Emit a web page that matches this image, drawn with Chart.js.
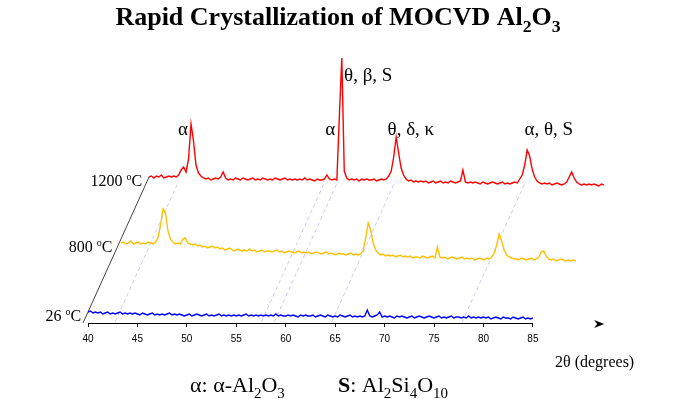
<!DOCTYPE html>
<html>
<head>
<meta charset="utf-8">
<script src="https://cdn.jsdelivr.net/npm/chart.js@4.4.1/dist/chart.umd.min.js"></script>
<style>
  html, body { margin: 0; padding: 0; background: #fff; }
  #xrd { display: block; }
</style>
</head>
<body>
<canvas id="xrd" width="675" height="399"></canvas>
<script>
// 2-theta sampling of the scans (degrees)
const ANGLE_START = 40;
const ANGLE_STEP = 0.25;
const tickValues = [40, 45, 50, 55, 60, 65, 70, 75, 80, 85];

// intensities, one row = 2.5 degrees
const counts1200 = [
  16,17,15,17,16,18,15,16,17,16,
  17,16,18,23,26,21,34,69,52,28,
  20,17,15,14,15,13,14,15,14,16,
  21,15,13,14,13,15,14,13,15,14,
  13,14,15,13,14,13,15,14,13,14,
  13,15,14,13,14,15,13,14,13,14,
  13,14,13,15,13,14,13,12,14,13,
  13,14,18,14,13,14,13,76,135,22,
  15,13,14,13,14,12,14,13,14,13,
  13,14,12,13,14,13,14,17,22,36,
  56,40,25,18,14,12,13,11,12,11,
  12,11,12,10,11,12,10,11,12,10,
  11,10,12,11,10,11,12,23,11,10,
  11,10,11,10,9,11,10,9,10,11,
  10,9,10,11,9,10,9,10,11,10,
  14,18,28,43,37,24,16,12,10,9,
  10,9,10,8,9,10,9,8,9,11,
  16,21,15,11,9,8,9,8,9,8,
  9,8,7,9,8
];
const counts800 = [
  20,21,19,20,22,19,20,21,19,20,
  19,21,20,19,21,26,38,54,50,32,
  24,21,19,20,19,24,25,20,19,18,
  19,17,18,16,17,15,16,17,15,16,
  14,15,13,14,15,13,12,14,13,12,
  13,12,14,12,13,11,12,13,11,12,
  12,11,12,13,11,12,10,11,12,11,
  10,11,12,10,11,10,11,9,10,11,
  10,9,10,11,9,10,9,8,10,9,
  9,8,9,10,8,9,8,9,13,25,
  40,33,20,13,10,8,9,7,8,7,
  8,6,7,8,6,7,6,7,5,6,
  6,5,7,6,5,6,7,5,16,6,
  5,6,4,5,6,5,4,5,6,4,
  5,4,5,3,4,5,4,3,5,4,
  6,10,18,29,22,13,8,6,5,4,
  4,3,5,4,3,4,5,3,4,6,
  11,12,7,4,3,4,2,3,4,3,
  2,3,2,3,2
];
const counts26 = [
  11,12,10,11,10,11,9,10,11,9,
  10,9,10,11,9,10,9,10,9,10,
  9,8,10,9,8,9,10,8,9,8,
  9,8,9,10,8,9,8,9,8,7,
  8,9,7,8,9,8,7,8,9,7,
  8,7,8,9,7,8,7,8,7,8,
  7,8,7,8,9,7,8,7,8,7,
  8,7,8,7,8,7,9,7,8,7,
  7,8,7,8,7,6,8,7,8,7,
  7,8,6,7,8,7,6,8,7,6,
  7,6,8,7,6,7,8,6,7,6,
  7,6,7,13,7,6,7,8,11,6,
  7,6,7,6,5,7,6,7,6,5,
  6,7,5,6,7,6,5,6,7,6,
  5,6,7,5,6,5,6,7,5,6,
  6,5,6,5,7,5,6,5,6,5,
  6,5,6,4,5,6,5,4,6,5,
  5,4,6,5,4,5,6,4,5,4,
  5,null,null,null,null
];

// peak guide positions (degrees, on the 1200 scan)
const guideAngles = [43.2, 58.0, 59.3, 65.1, 78.3];

const twoTheta = counts26.map((_, i) => ANGLE_START + i * ANGLE_STEP);

// waterfall: each scan shifted right (deg) and up
const traces = [
  { temp: '26',   counts: counts26,   color: '#0000ff', dx: 0,    dy: 0 },
  { temp: '800',  counts: counts800,  color: '#ffc000', dx: 3.34, dy: 60 },
  { temp: '1200', counts: counts1200, color: '#ff0000', dx: 6.17, dy: 130 }
];

const backTrace = traces[2], frontTrace = traces[0];
const baseLow = frontTrace.counts[0];
const baseHigh = backTrace.dy + backTrace.counts[0];
const slope = backTrace.dx / (baseHigh - baseLow);   // degrees per intensity unit

const peakLabels = [
  { text: 'α',       x: 49.6,  y: 193, align: 'center' },
  { text: 'α',       x: 64.5,  y: 193, align: 'center' },
  { text: 'θ, β, S', x: 65.9,  y: 247, align: 'left' },
  { text: 'θ, δ, κ', x: 70.3,  y: 193, align: 'left' },
  { text: 'α, θ, S', x: 84.15, y: 193, align: 'left' }
];

const SERIF = "'Liberation Serif', 'Times New Roman', serif";

function drawRich(ctx, parts, x, y, size, align) {
  const font = (p, s) => (p.bold ? 'bold ' : '') + s + 'px ' + SERIF;
  let total = 0;
  parts.forEach(p => {
    ctx.font = font(p, p.sub ? size * 0.68 : size);
    p.w = ctx.measureText(p.t).width;
    total += p.w;
  });
  let cx = align === 'center' ? x - total / 2 : (align === 'right' ? x - total : x);
  ctx.textAlign = 'left';
  ctx.textBaseline = 'alphabetic';
  parts.forEach(p => {
    ctx.font = font(p, p.sub ? size * 0.68 : size);
    ctx.fillText(p.t, cx, p.sub ? y + size * 0.25 : y);
    cx += p.w;
  });
}

const overlayPlugin = {
  id: 'waterfallOverlay',
  beforeDatasetsDraw(chart) {
    const { ctx, scales: { x, y } } = chart;
    ctx.save();
    // dashed peak guides
    ctx.strokeStyle = '#d2c6f6';
    ctx.lineWidth = 1;
    ctx.setLineDash([4, 3]);
    guideAngles.forEach(a => {
      ctx.beginPath();
      ctx.moveTo(x.getPixelForValue(a + (1 - baseLow) * slope), y.getPixelForValue(1));
      ctx.lineTo(x.getPixelForValue(a + (baseHigh - 4 - baseLow) * slope), y.getPixelForValue(baseHigh - 4));
      ctx.stroke();
    });
    ctx.setLineDash([]);
    // depth axis
    ctx.strokeStyle = '#444';
    ctx.beginPath();
    ctx.moveTo(x.getPixelForValue(ANGLE_START - baseLow * slope), y.getPixelForValue(0));
    ctx.lineTo(x.getPixelForValue(ANGLE_START + backTrace.dx), y.getPixelForValue(baseHigh));
    ctx.stroke();
    // 2-theta axis line
    ctx.strokeStyle = '#000';
    const ay = Math.round(y.getPixelForValue(0)) + 0.5;
    ctx.beginPath();
    ctx.moveTo(x.getPixelForValue(tickValues[0]), ay);
    ctx.lineTo(x.getPixelForValue(tickValues[tickValues.length - 1]), ay);
    ctx.stroke();
    ctx.restore();
  },
  afterDraw(chart) {
    const { ctx, scales: { x, y } } = chart;
    ctx.save();
    ctx.fillStyle = '#000';

    // temperature labels at the start of each scan
    const x0 = x.getPixelForValue(ANGLE_START - baseLow * slope), y0 = y.getPixelForValue(0);
    const x1 = x.getPixelForValue(ANGLE_START + backTrace.dx), y1 = y.getPixelForValue(baseHigh);
    traces.forEach(tr => {
      const py = y.getPixelForValue(tr.dy + tr.counts[0]) + 4;
      const lx = x0 + (x1 - x0) * (py - y0) / (y1 - y0) - 5;
      ctx.font = '16px ' + SERIF;
      const wN = ctx.measureText(tr.temp + ' ').width;
      const wC = ctx.measureText('C').width;
      ctx.font = '10px ' + SERIF;
      const wO = ctx.measureText('o').width;
      const sx = lx - wN - wO - wC;
      ctx.textBaseline = 'alphabetic';
      ctx.textAlign = 'left';
      ctx.font = '16px ' + SERIF;
      ctx.fillText(tr.temp + ' ', sx, py + 5);
      ctx.font = '10px ' + SERIF;
      ctx.fillText('o', sx + wN, py - 1);
      ctx.font = '16px ' + SERIF;
      ctx.fillText('C', sx + wN + wO, py + 5);
    });

    // peak assignments
    ctx.font = '19px ' + SERIF;
    ctx.textBaseline = 'middle';
    peakLabels.forEach(l => {
      ctx.textAlign = l.align;
      ctx.fillText(l.text, x.getPixelForValue(l.x), y.getPixelForValue(l.y));
    });

    // axis arrow and title
    const ax = x.getPixelForValue(91.6), ay = y.getPixelForValue(0) + 1;
    ctx.beginPath();
    ctx.moveTo(ax + 6, ay);
    ctx.lineTo(ax - 4, ay - 4);
    ctx.lineTo(ax - 1, ay);
    ctx.lineTo(ax - 4, ay + 4);
    ctx.closePath();
    ctx.fill();
    ctx.font = '16px ' + SERIF;
    ctx.textAlign = 'left';
    ctx.textBaseline = 'middle';
    ctx.fillText('2θ (degrees)', 555, 363);

    // title
    drawRich(ctx, [{ t: 'Rapid Crystallization of MOCVD Al', bold: true }, { t: '2', sub: true, bold: true },
                   { t: 'O', bold: true }, { t: '3', sub: true, bold: true }], 338, 25, 26, 'center');

    // phase key
    drawRich(ctx, [{ t: 'α: α-Al' }, { t: '2', sub: true }, { t: 'O' }, { t: '3', sub: true }], 190, 392, 22, 'left');
    drawRich(ctx, [{ t: 'S', bold: true }, { t: ': Al' }, { t: '2', sub: true }, { t: 'Si' }, { t: '4', sub: true },
                   { t: 'O' }, { t: '10', sub: true }], 338, 392, 22, 'left');
    ctx.restore();
  }
};

new Chart(document.getElementById('xrd'), {
  type: 'line',
  data: {
    datasets: traces.map(tr => ({
      label: tr.temp + ' °C',
      data: twoTheta.map((t, i) => ({ x: t + tr.dx, y: tr.counts[i] == null ? null : tr.counts[i] + tr.dy })),
      borderColor: tr.color,
      borderWidth: 1.4,
      pointRadius: 0,
      tension: 0,
      fill: false
    }))
  },
  options: {
    responsive: false,
    animation: false,
    devicePixelRatio: 1,
    layout: { padding: { left: 88, right: 63, top: 43, bottom: 46 } },
    plugins: { legend: { display: false }, tooltip: { enabled: false } },
    scales: {
      x: {
        type: 'linear',
        min: 40,
        max: 93,
        afterBuildTicks: s => { s.ticks = tickValues.map(v => ({ value: v })); },
        afterFit: s => { s.height = 30; },
        border: { display: false },
        grid: { drawOnChartArea: false, drawTicks: true, tickLength: 4, color: '#000' },
        ticks: { color: '#000', font: { family: "'Liberation Sans', Arial, sans-serif", size: 10 },
                 padding: 6, maxRotation: 0, autoSkip: false }
      },
      y: { display: false, min: 0, max: 280 }
    }
  },
  plugins: [overlayPlugin]
});
</script>
</body>
</html>
